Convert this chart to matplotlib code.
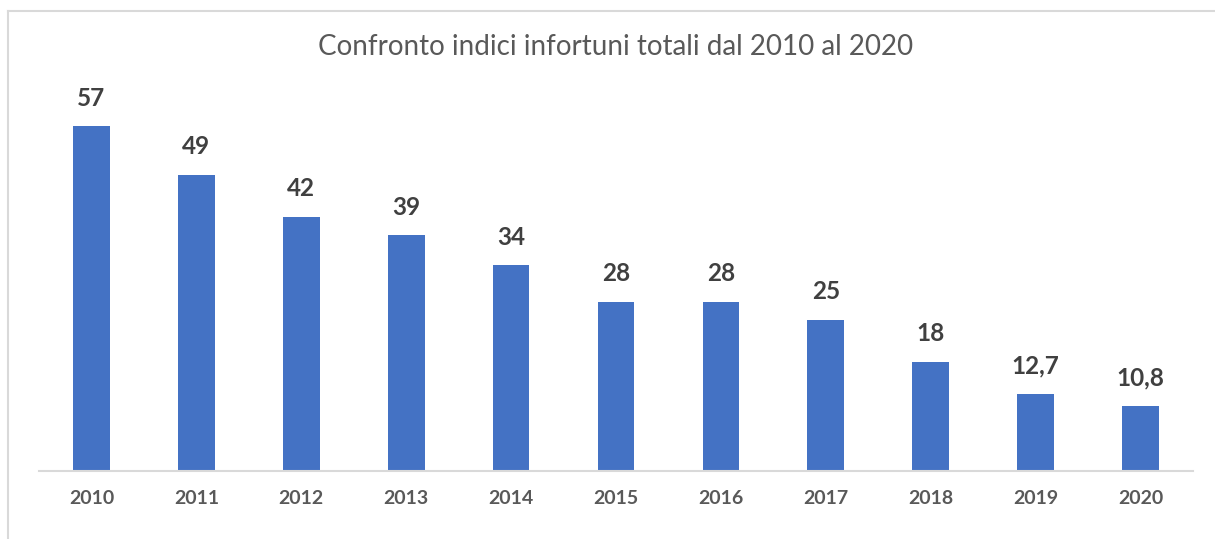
import matplotlib
matplotlib.use("Agg")
import matplotlib.pyplot as plt
from matplotlib.lines import Line2D
import numpy as np

# dati
anni = ["2010", "2011", "2012", "2013", "2014", "2015", "2016", "2017", "2018", "2019", "2020"]
indici = [57, 49, 42, 39, 34, 28, 28, 25, 18, 12.7, 10.8]
titolo = "Confronto indici infortuni totali dal 2010 al 2020"

plt.rcParams["font.family"] = ["Lato", "DejaVu Sans"]

fig = plt.figure(figsize=(12.15, 5.39), dpi=100)
ax = fig.add_axes([0.0321, 0.1262, 0.9498, 0.7291])

x = np.arange(len(anni))
bars = ax.bar(x, indici, width=0.35, color="#4472C4", zorder=2)

for xi, v in zip(x, indici):
    ax.annotate(f"{v:g}".replace(".", ","), (xi, v), xytext=(0, 12),
                textcoords="offset points", ha="center", va="bottom",
                fontsize=17.5, fontweight="bold", color="#404040")

ax.set_xlim(-0.5, len(anni) - 0.5)
ax.set_ylim(0, 65)
ax.set_xticks(x)
ax.set_xticklabels(anni, fontsize=14, fontweight="bold", color="#595959")
ax.tick_params(axis="x", length=0, pad=14)
ax.set_yticks([])
for s in ["top", "right", "left"]:
    ax.spines[s].set_visible(False)
ax.spines["bottom"].set_color("#d9d9d9")
ax.spines["bottom"].set_linewidth(1.5)

fig.text(0.5065, 0.912, titolo, ha="center", va="center", fontsize=20,
         color="#595959")

# bordo del grafico
fig.add_artist(Line2D([8 / 1215, 1], [1 - 11 / 539, 1 - 11 / 539],
                      transform=fig.transFigure, color="#d9d9d9", lw=1.5))
fig.add_artist(Line2D([8 / 1215, 8 / 1215], [0, 1 - 11 / 539],
                      transform=fig.transFigure, color="#d9d9d9", lw=1.5))

fig.savefig("out.png", dpi=100)
